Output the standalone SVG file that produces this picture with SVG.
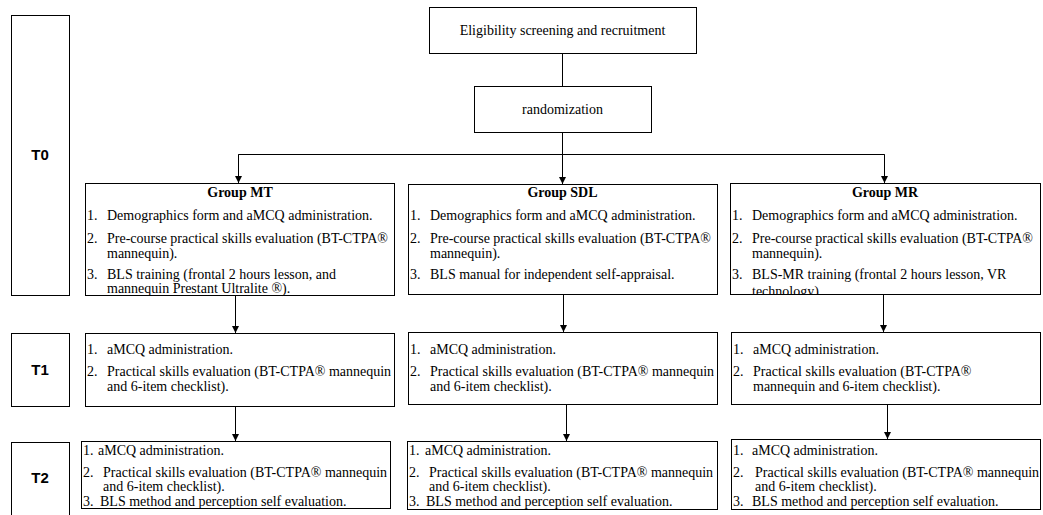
<svg xmlns="http://www.w3.org/2000/svg" width="1043" height="515" viewBox="0 0 1043 515">
<style>
.box{fill:#fff;stroke:#000;stroke-width:1}
.t{font-family:"Liberation Serif","Times New Roman",serif;font-size:14px;fill:#000}
.b{font-weight:bold;text-anchor:middle}
.m{text-anchor:middle}
.lab{font-family:"Liberation Sans",Arial,sans-serif;font-weight:bold;font-size:15px;text-anchor:middle;fill:#000}
.c{stroke:#000;stroke-width:1;fill:none}
.a{marker-end:url(#arr)}
</style>
<defs>
<marker id="arr" markerUnits="userSpaceOnUse" markerWidth="8" markerHeight="8" refX="7" refY="3.5" orient="auto">
<path d="M0,0 L7,3.5 L0,7 z" fill="#000"/>
</marker>
<clipPath id="clipMR"><rect x="730" y="183" width="310" height="111"/></clipPath>
</defs>
<rect width="1043" height="515" fill="#fff"/>

<g id="connectors">
<line class="c" x1="562.5" y1="53" x2="562.5" y2="86"/>
<polyline class="c" points="562.5,132 562.5,154.5"/>
<polyline class="c" points="238.5,183 238.5,154.5 884.5,154.5 884.5,183"/>
<line class="c a" x1="238.5" y1="154.5" x2="238.5" y2="183"/>
<line class="c a" x1="562.5" y1="154.5" x2="562.5" y2="184"/>
<line class="c a" x1="884.5" y1="154.5" x2="884.5" y2="183"/>
<line class="c a" x1="235.5" y1="295" x2="235.5" y2="333"/>
<line class="c a" x1="563.5" y1="294" x2="563.5" y2="332"/>
<line class="c a" x1="883.5" y1="294" x2="883.5" y2="332"/>
<line class="c a" x1="235.5" y1="406" x2="235.5" y2="441"/>
<line class="c a" x1="566.5" y1="404" x2="566.5" y2="441"/>
<line class="c a" x1="887.5" y1="404" x2="887.5" y2="439"/>
</g>

<g id="label-T0"><rect class="box" x="11.5" y="15.5" width="58" height="280"/><text class="lab" x="40" y="160">T0</text></g>
<g id="label-T1"><rect class="box" x="11.5" y="333.5" width="58" height="73"/><text class="lab" x="40" y="375">T1</text></g>
<g id="label-T2"><rect class="box" x="11.5" y="442.5" width="58" height="80"/><text class="lab" x="40" y="483">T2</text></g>

<g id="eligibility"><rect class="box" x="429.5" y="7.5" width="267" height="46"/><text class="t m" x="562.5" y="35">Eligibility screening and recruitment</text></g>
<g id="randomization"><rect class="box" x="474.5" y="86.5" width="177" height="46"/><text class="t m" x="562.5" y="114">randomization</text></g>

<g id="group-MT">
<rect class="box" x="85.5" y="183.5" width="309" height="112"/>
<text class="t b" x="240" y="197">Group MT</text>
<text class="t" x="87" y="220">1.</text><text class="t" x="107" y="220">Demographics form and aMCQ administration.</text>
<text class="t" x="87" y="243">2.</text><text class="t" x="107" y="243">Pre-course practical skills evaluation (BT-CTPA®</text>
<text class="t" x="107" y="258">mannequin).</text>
<text class="t" x="87" y="279">3.</text><text class="t" x="107" y="279">BLS training (frontal 2 hours lesson, and</text>
<text class="t" x="107" y="293">mannequin Prestant Ultralite ®).</text>
</g>

<g id="group-SDL">
<rect class="box" x="408.5" y="184.5" width="309" height="110"/>
<text class="t b" x="562.5" y="197">Group SDL</text>
<text class="t" x="410" y="220">1.</text><text class="t" x="430" y="220">Demographics form and aMCQ administration.</text>
<text class="t" x="410" y="243">2.</text><text class="t" x="430" y="243">Pre-course practical skills evaluation (BT-CTPA®</text>
<text class="t" x="430" y="258">mannequin).</text>
<text class="t" x="410" y="279">3.</text><text class="t" x="430" y="279">BLS manual for independent self-appraisal.</text>
</g>

<g id="group-MR">
<rect class="box" x="730.5" y="183.5" width="310" height="111"/>
<text class="t b" x="885" y="197">Group MR</text>
<text class="t" x="732" y="220">1.</text><text class="t" x="752" y="220">Demographics form and aMCQ administration.</text>
<text class="t" x="732" y="243">2.</text><text class="t" x="752" y="243">Pre-course practical skills evaluation (BT-CTPA®</text>
<text class="t" x="752" y="258">mannequin).</text>
<text class="t" x="732" y="279">3.</text><text class="t" x="752" y="279">BLS-MR training (frontal 2 hours lesson, VR</text>
<text class="t" x="752" y="296" clip-path="url(#clipMR)">technology).</text>
<line class="c" x1="730.5" y1="294.5" x2="1040.5" y2="294.5"/>
</g>

<g id="T1-MT">
<rect class="box" x="85.5" y="333.5" width="309" height="73"/>
<text class="t" x="87" y="354">1.</text><text class="t" x="107" y="354">aMCQ administration.</text>
<text class="t" x="87" y="376">2.</text><text class="t" x="107" y="376">Practical skills evaluation (BT-CTPA® mannequin</text>
<text class="t" x="107" y="391">and 6-item checklist).</text>
</g>
<g id="T1-SDL">
<rect class="box" x="408.5" y="332.5" width="309" height="72"/>
<text class="t" x="410" y="354">1.</text><text class="t" x="430" y="354">aMCQ administration.</text>
<text class="t" x="410" y="376">2.</text><text class="t" x="430" y="376">Practical skills evaluation (BT-CTPA® mannequin</text>
<text class="t" x="430" y="391">and 6-item checklist).</text>
</g>
<g id="T1-MR">
<rect class="box" x="731.5" y="332.5" width="309" height="72"/>
<text class="t" x="733" y="354">1.</text><text class="t" x="753" y="354">aMCQ administration.</text>
<text class="t" x="733" y="376">2.</text><text class="t" x="753" y="376">Practical skills evaluation (BT-CTPA®</text>
<text class="t" x="753" y="391">mannequin and 6-item checklist).</text>
</g>

<g id="T2-MT">
<rect class="box" x="81.5" y="441.5" width="309" height="67"/>
<text class="t" x="83" y="455">1.</text><text class="t" x="98" y="455">aMCQ administration.</text>
<text class="t" x="83" y="477">2.</text><text class="t" x="103" y="477">Practical skills evaluation (BT-CTPA® mannequin</text>
<text class="t" x="103" y="491">and 6-item checklist).</text>
<text class="t" x="83" y="506">3.</text><text class="t" x="100" y="506">BLS method and perception self evaluation.</text>
</g>
<g id="T2-SDL">
<rect class="box" x="407.5" y="441.5" width="310" height="68"/>
<text class="t" x="409" y="455">1.</text><text class="t" x="425" y="455">aMCQ administration.</text>
<text class="t" x="409" y="477">2.</text><text class="t" x="429" y="477">Practical skills evaluation (BT-CTPA® mannequin</text>
<text class="t" x="429" y="491">and 6-item checklist).</text>
<text class="t" x="409" y="506">3.</text><text class="t" x="426" y="506">BLS method and perception self evaluation.</text>
</g>
<g id="T2-MR">
<rect class="box" x="731.5" y="439.5" width="309" height="70"/>
<text class="t" x="733" y="455">1.</text><text class="t" x="752" y="455">aMCQ administration.</text>
<text class="t" x="733" y="477">2.</text><text class="t" x="755" y="477">Practical skills evaluation (BT-CTPA® mannequin</text>
<text class="t" x="755" y="491">and 6-item checklist).</text>
<text class="t" x="733" y="506">3.</text><text class="t" x="752" y="506">BLS method and perception self evaluation.</text>
</g>
</svg>
